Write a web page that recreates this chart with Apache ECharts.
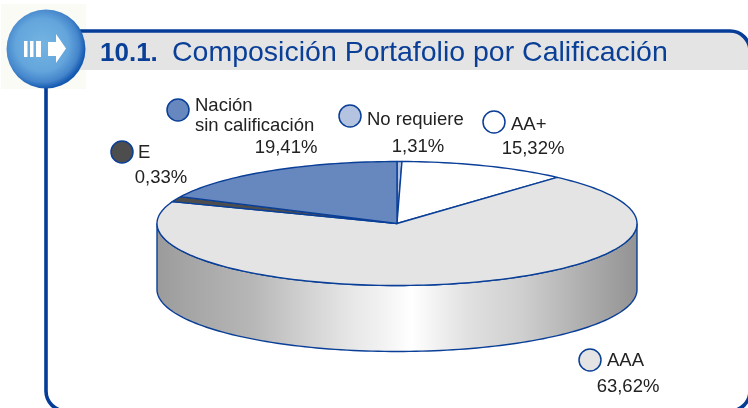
<!DOCTYPE html>
<html><head><meta charset="utf-8">
<style>html,body{margin:0;padding:0;background:#fff}#c{width:748px;height:408px}</style>
<script src="https://cdn.jsdelivr.net/npm/echarts@6/dist/echarts.min.js"></script>
</head><body><div id="c"></div>
<script>
// Clockwise from 12 o'clock, as in the picture.
const categories = ['No requiere', 'AA+', 'AAA', 'E', 'Nación sin calificación'];
// Percentages printed on the labels.
const printedValues = [1.31, 15.32, 63.62, 0.33, 19.41];
// Slice sizes as they are actually drawn in the picture (its 3D rendering does not
// follow the printed percentages), read from where the slice edges meet the rim.
const drawnShares = [0.33, 11.3, 69.1, 1.4, 17.87];
const sliceColors = ['#b3c3e0', '#ffffff', '#e4e4e4', '#4d4d4d', '#6787bf'];
const titleNumber = '10.1.';
const titleText = 'Composición Portafolio por Calificación';

const BLUE = '#0a3f98', FONT = '"Liberation Sans", Arial, sans-serif';
const pie = {cx: 397, cy: 223.5, rx: 240, ry: 62, depth: 66};
const rim = (deg, dy) => {
  const t = deg * Math.PI / 180;
  return [pie.cx + pie.rx * Math.sin(t), pie.cy + (dy || 0) - pie.ry * Math.cos(t)];
};
const arc = (a, b, dy) => {
  const pts = [], n = Math.max(2, Math.ceil((b - a) / 1.5));
  for (let i = 0; i <= n; i++) pts.push(rim(a + (b - a) * i / n, dy));
  return pts;
};
const total = drawnShares.reduce((s, v) => s + v, 0);
const wallFill = {type: 'linear', x: 157, y: 0, x2: 637, y2: 0, global: true, colorStops: [
  {offset: 0, color: '#9b9b9b'}, {offset: .05, color: '#a3a3a3'}, {offset: .2, color: '#b7b7b7'},
  {offset: .3, color: '#cfcfcf'}, {offset: .4, color: '#e6e6e6'}, {offset: .47, color: '#f2f2f2'},
  {offset: .53, color: '#ffffff'}, {offset: .65, color: '#e0e0e0'}, {offset: .76, color: '#cfcfcf'},
  {offset: .88, color: '#b0b0b0'}, {offset: 1, color: '#939393'}]};

function renderSlice(params, api) {
  const i = params.dataIndex;
  let before = 0;
  for (let k = 0; k < i; k++) before += drawnShares[k];
  const a = before / total * 360, b = (before + api.value(0)) / total * 360;
  const children = [];
  const fa = Math.max(a, 90), fb = Math.min(b, 270);
  if (fb > fa) {
    children.push({type: 'polygon',
      shape: {points: arc(fa, fb, 0).concat(arc(fa, fb, pie.depth).reverse())},
      style: {fill: wallFill, stroke: BLUE, lineWidth: 1.4}});
  }
  children.push({type: 'polygon',
    shape: {points: [[pie.cx, pie.cy]].concat(arc(a, b, 0))},
    style: {fill: sliceColors[i], stroke: BLUE, lineWidth: 1.4, lineJoin: 'round'}});
  return {type: 'group', children};
}

// Label placement, indexed like categories.
const labelLayout = [
  {dot: [350, 116], lines: [[367, 120, 'left']], pct: [418, 147]},
  {dot: [494, 122], lines: [[511, 125, 'left']], pct: [533, 149]},
  {dot: [590, 360], lines: [[607, 361, 'left']], pct: [628, 387]},
  {dot: [122, 152], lines: [[138, 153, 'left']], pct: [161, 178]},
  {dot: [178, 110], lines: [[195, 105.5, 'left'], [195, 126, 'left']], pct: [286, 148]}
];
const labelLines = [['No requiere'], ['AA+'], ['AAA'], ['E'], ['Nación', 'sin calificación']];
const txt = (x, y, text, align) => ({type: 'text', x, y, silent: true, z: 20,
  style: {text, fill: '#222222', font: '18.5px ' + FONT, textAlign: align, textVerticalAlign: 'middle'}});
const labelGraphics = [];
categories.forEach((c, i) => {
  const L = labelLayout[i];
  labelGraphics.push({type: 'circle', z: 20, shape: {cx: L.dot[0], cy: L.dot[1], r: 11},
    style: {fill: sliceColors[i], stroke: BLUE, lineWidth: 1.5}});
  labelLines[i].forEach((t, j) => labelGraphics.push(txt(L.lines[j][0], L.lines[j][1], t, L.lines[j][2])));
  labelGraphics.push(txt(L.pct[0], L.pct[1], printedValues[i].toFixed(2).replace('.', ',') + '%', 'center'));
});

const chrome = [
  {type: 'rect', z: 0, shape: {x: 1, y: 4, width: 85, height: 85}, style: {fill: '#fbfbf6'}},
  {type: 'rect', z: 1, shape: {x: 60, y: 31, width: 690, height: 39, r: [0, 20, 0, 0]}, style: {fill: '#e4e4e4'}},
  {type: 'rect', z: 2, shape: {x: 46, y: 31, width: 704, height: 380, r: 20}, style: {fill: 'none', stroke: '#043c98', lineWidth: 3.6}},
  {type: 'circle', z: 5, shape: {cx: 46, cy: 49, r: 39.5}, style: {fill: {type: 'radial', x: .45, y: .45, r: .55, colorStops: [
    {offset: 0, color: '#74b4e2'}, {offset: .6, color: '#64a6dc'}, {offset: .85, color: '#4586cc'}, {offset: 1, color: '#1459b0'}]}}},
  {type: 'rect', z: 6, shape: {x: 24, y: 41, width: 3.5, height: 16}, style: {fill: '#fff'}},
  {type: 'rect', z: 6, shape: {x: 30, y: 41, width: 3.5, height: 16}, style: {fill: '#fff'}},
  {type: 'rect', z: 6, shape: {x: 36, y: 41, width: 5, height: 16}, style: {fill: '#fff'}},
  {type: 'polygon', z: 6, shape: {points: [[48, 42], [56, 42], [56, 34], [66, 48.5], [56, 63], [56, 56], [48, 56]]}, style: {fill: '#fff'}},
  {type: 'text', z: 7, x: 100, y: 53.5, style: {text: titleNumber, fill: BLUE, font: 'bold 26px ' + FONT, textVerticalAlign: 'middle'}},
  {type: 'text', z: 7, x: 172, y: 53.5, style: {text: titleText, fill: BLUE, font: '28.5px ' + FONT, textVerticalAlign: 'middle'}}
];

const chart = echarts.init(document.getElementById('c'), null, {renderer: 'canvas'});
chart.setOption({
  animation: false,
  graphic: {elements: chrome.concat(labelGraphics)},
  series: [{type: 'custom', coordinateSystem: 'none', silent: true, z: 10,
    renderItem: renderSlice,
    data: categories.map((name, i) => ({name, value: [drawnShares[i]]}))}]
});
</script></body></html>
